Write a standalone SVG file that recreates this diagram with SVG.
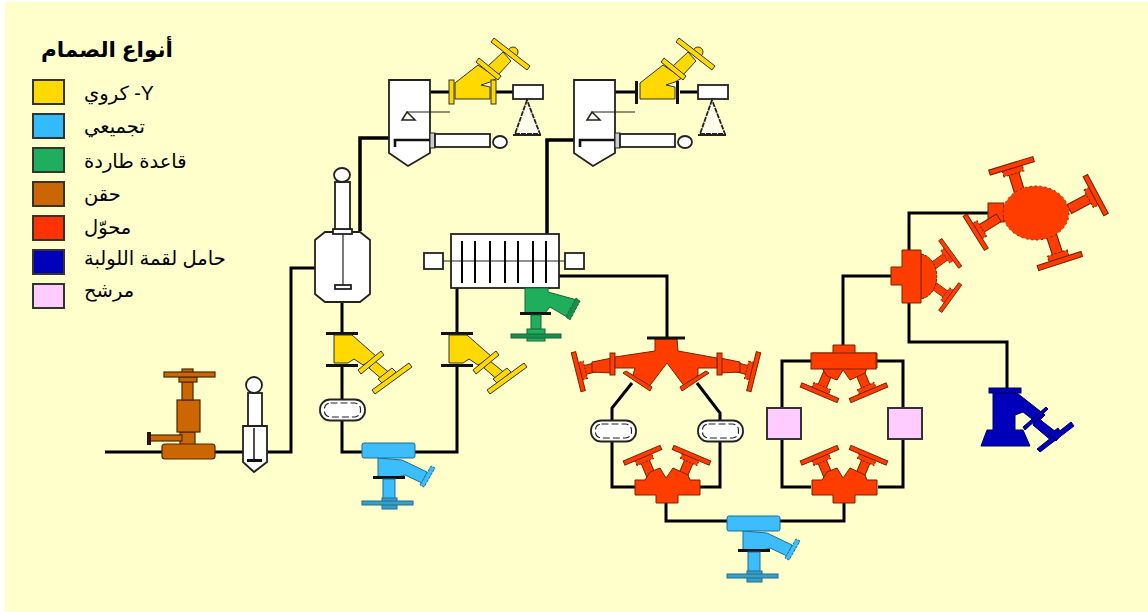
<svg xmlns="http://www.w3.org/2000/svg" xmlns:xlink="http://www.w3.org/1999/xlink" width="1148" height="612" viewBox="0 0 1148 612">
<style>
.bg{fill:#ffffcc}
.pipe{fill:none;stroke:#000;stroke-width:3.5;stroke-linejoin:miter}
.pipe2{fill:none;stroke:#000;stroke-width:3}
.eq{fill:#fff;stroke:#222;stroke-width:1.8}
.thin{fill:none;stroke:#222;stroke-width:1.2}
.bar{fill:none;stroke:#111;stroke-width:2.6}
.sw{stroke:#333;stroke-width:2}
.lg{font-family:"Liberation Sans","DejaVu Sans","Noto Sans",sans-serif;font-size:19.500px;fill:#000;direction:rtl;text-anchor:end}
.ttl{font-family:"Liberation Sans","DejaVu Sans","Noto Sans",sans-serif;font-size:21.500px;font-weight:bold;fill:#000;direction:rtl;text-anchor:end}
.y{fill:#ffd900;stroke:#333;stroke-width:1}
.c{fill:#3dbdfb;stroke:#1b6f96;stroke-width:1}
.c2{fill:#3a9fc2;stroke:#1b6f96;stroke-width:1}
.g{fill:#1fae5c;stroke:#14663a;stroke-width:1}
.g2{fill:#1a8f4c;stroke:#14663a;stroke-width:1}
.b{fill:#cc6600;stroke:#4a2800;stroke-width:1.2}
.r{fill:#ff3d00;stroke:#7a2000;stroke-width:1}
.d{fill:#0000bb;stroke:#000060;stroke-width:1}
.p{fill:#ffccff;stroke:#333;stroke-width:2}
</style>
<defs>
<g id="arm"><rect class="r" x="-8" y="-4.500" width="28" height="9"/><rect class="r" x="12" y="-9" width="7" height="18" stroke-dasharray="2 1.500"/><rect class="r" x="17" y="-20" width="4.500" height="40"/></g>
<g id="oval"><rect class="eq" x="-22.500" y="-10.500" width="45" height="21" rx="10"/><rect x="-18" y="-7" width="36" height="14" rx="6" fill="none" stroke="#222" stroke-width="1.200" stroke-dasharray="7 3"/></g>
<g id="yvalve">
<rect x="326" y="332" width="32" height="3" fill="#111"/><rect x="326" y="364" width="32" height="3" fill="#111"/>
<polygon class="y" points="334,335 352,335 377,357 363,365 354,359 348,363 334,363"/>
<polygon class="y" points="375,361 391,374 384,381 369,368"/>
<polygon class="y" points="358,370 381,351 384,355 361,374"/>
<polygon class="y" points="378,379 392,368 396,372 383,384"/>
<polygon class="y" points="372,390 409,363 412,367 375,394"/>
</g>
<g id="topvalve">
<polygon class="y" points="455,83 478,65 497,78 490,82 481,85 490,87 490,99 455,99"/>
<polygon class="y" points="488,66 503,52 511,61 497,76"/>
<polygon class="y" points="479,58 501,76 498,80 476,62"/>
<circle class="y" cx="513" cy="52" r="5"/>
<polygon class="y" points="494,38 530,66 527,70 491,42"/>
</g>
<g id="press">
<path class="eq" d="M389,80H430V153L408,166L389,153Z"/>
<path class="thin" d="M407,112H450"/>
<path d="M402,120L407,112L415,120Z" fill="#ffffee" stroke="#222" stroke-width="1.500"/>
<path class="bar" d="M395,147V140H430"/>
<rect x="430" y="133" width="5" height="15" fill="#ccc" stroke="#222"/>
<rect class="eq" x="435" y="134" width="55" height="13"/>
<ellipse class="eq" cx="500" cy="142" rx="7" ry="6"/>
<rect class="eq" x="513" y="85" width="30" height="14"/>
<path d="M527,100L515,134H540Z" fill="#ffffee" stroke="#222" stroke-width="1.800" stroke-dasharray="5 1"/>
<path d="M513,135H541" stroke="#222" stroke-width="2"/>
</g>
<g id="bluev">
<polygon class="c" points="378,458 402,460 427,472 422,483 405,475 398,477 378,477"/>
<rect x="373" y="476" width="32" height="3" fill="#111"/>
<rect class="c" x="383" y="479" width="12" height="24"/>
<rect class="c2" x="382" y="498" width="15" height="11"/>
<rect class="c2" x="362" y="501" width="51" height="4"/>
<polygon class="c" points="420,485 431,466 435,468 424,487" stroke-dasharray="3 1"/>
<rect class="c" x="362" y="443" width="53" height="15" rx="2" stroke="#111"/>
</g>
<g id="redlow">
<use xlink:href="#arm" href="#arm" transform="translate(650,473) rotate(-113)"/>
<use xlink:href="#arm" href="#arm" transform="translate(684,473) rotate(-67)"/>
<polygon class="r" points="635,480 645,480 650,472 660,468 666,478 673,468 688,475 690,480 700,480 700,495 678,495 678,503 656,503 656,495 635,495"/>
</g>
</defs>
<rect width="1148" height="612" fill="#fff"/>
<rect class="bg" x="5" y="2" width="1143" height="610"/>

<g id="legend">
<text class="ttl" x="41" y="57">أنواع الصمام</text>
<rect class="sw" x="33" y="80" width="31" height="24" fill="#ffd900"/><text class="lg" x="84" y="100">Y- كروي</text>
<rect class="sw" x="33" y="114" width="31" height="24" fill="#33bbff"/><text class="lg" x="84" y="133">تجميعي</text>
<rect class="sw" x="33" y="148" width="31" height="24" fill="#1fae5c"/><text class="lg" x="84" y="168">قاعدة طاردة</text>
<rect class="sw" x="33" y="182" width="31" height="24" fill="#cc6600"/><text class="lg" x="84" y="201">حقن</text>
<rect class="sw" x="33" y="216" width="31" height="24" fill="#ff3300"/><text class="lg" x="84" y="234">محوّل</text>
<rect class="sw" x="33" y="250" width="31" height="24" fill="#0000bb"/><text class="lg" x="84" y="265">حامل لقمة اللولبة</text>
<rect class="sw" x="33" y="284" width="31" height="24" fill="#ffccff"/><text class="lg" x="84" y="297">مرشح</text>
</g>

<g id="connectors">
<path class="pipe2" d="M105,452H243M267,452H291V268H315"/>
<path class="pipe" d="M360,231V138H389"/>
<path class="pipe2" d="M430,92H450M495,92H513"/>
<path class="pipe" d="M547,234V140H574"/>
<path class="pipe2" d="M615,92H635M680,92H698"/>
<path class="pipe2" d="M342,302V333M342,365V399M342,420V452H362M415,452H457V365M457,333V288"/>
<path class="pipe2" d="M559,276H667V338"/>
<path class="pipe2" d="M632,383L612,408V420M612,441V487H635M697,383L720,413V420M720,441V487H700"/>
<path class="pipe2" d="M666,503V521H727M778,521H844V503"/>
<path class="pipe2" d="M843,345V276H891"/>
<path class="pipe2" d="M811,361H782V408M782,439V487H811M876,361H903V408M903,439V487H878"/>
<path class="pipe2" d="M909,250V213H988M909,303V342H1007V388"/>
</g>

<g id="reactor">
<path class="eq" d="M315,240L325,232H360L370,240V294L360,302H325L315,294Z"/>
<rect class="eq" x="333" y="229" width="19" height="5"/>
<rect class="eq" x="335" y="182" width="15" height="47"/>
<ellipse class="eq" cx="342" cy="175" rx="8" ry="7"/>
<path class="thin" d="M343,234V285"/>
<rect class="eq" x="335" y="285" width="16" height="4"/>
</g>
<g id="settler"><rect class="eq" x="248" y="393" width="14" height="33"/><circle class="eq" cx="254" cy="385" r="8"/><path class="eq" d="M243,426H267V462L254,472L243,462Z"/><path d="M254,428V460" stroke="#222" stroke-width="1.600"/><rect x="247" y="459" width="15" height="3" fill="#111"/></g>
<g id="press-1"><use xlink:href="#press" href="#press"/></g>
<g id="press-2"><use xlink:href="#press" href="#press" transform="translate(185,0)"/></g>
<g id="globe-1"><use xlink:href="#topvalve" href="#topvalve"/><rect class="y" x="449" y="80" width="5" height="24"/><rect class="y" x="491" y="80" width="5" height="24"/></g>
<g id="globe-2"><use xlink:href="#topvalve" href="#topvalve" transform="translate(185,0)"/><rect x="635" y="81" width="3" height="23" fill="#111"/><rect x="676" y="81" width="3" height="23" fill="#111"/></g>
<g id="filter-press">
<rect class="eq" x="451" y="234" width="108" height="54" stroke-width="2.200"/>
<path d="M443,261H565" stroke="#222" stroke-width="1.200"/>
<path class="pipe2" style="stroke-width:2" d="M462,241V283M475,241V283M490,241V283M505,241V283M518,241V283M533,241V283M546,241V283"/>
<rect class="eq" x="424" y="253" width="19" height="16"/>
<rect class="eq" x="565" y="253" width="19" height="16"/>
</g>
<g id="green-valve">
<polygon class="g" points="525,288 548,288 548,292 577,300 567,317 550,307 545,313 525,313"/>
<polygon class="g2" points="576,298 580,301 570,320 566,317" stroke-dasharray="3 1"/>
<rect x="520" y="312" width="31" height="3" fill="#111"/>
<rect class="g" x="531" y="315" width="10" height="15"/>
<rect class="g" x="527" y="329" width="18" height="12"/>
<rect class="g2" x="511" y="334" width="50" height="4"/>
</g>
<g id="gate-1"><rect class="b" x="180" y="432" width="15" height="13"/><rect class="b" x="150" y="435" width="32" height="6"/><rect x="147" y="432" width="4" height="13" fill="#2a1500"/><rect class="b" x="177" y="400" width="23" height="32"/><rect class="b" x="182" y="382" width="11" height="18"/><rect class="b" x="179" y="377" width="18" height="5"/><rect class="b" x="182" y="369" width="11" height="4"/><rect class="b" x="164" y="372" width="51" height="5"/><rect class="b" x="162" y="444" width="53" height="15" rx="3"/></g>
<g id="y-valve-1"><use xlink:href="#yvalve" href="#yvalve"/></g>
<g id="y-valve-2"><use xlink:href="#yvalve" href="#yvalve" transform="translate(115,0)"/></g>
<g id="sight-1"><use xlink:href="#oval" href="#oval" transform="translate(342.500,410)"/></g>
<g id="blue-valve-1"><use xlink:href="#bluev" href="#bluev"/></g>
<g id="blue-valve-2"><use xlink:href="#bluev" href="#bluev" transform="translate(365,73)"/></g>
<g id="red-top">
<use xlink:href="#arm" href="#arm" transform="translate(597,367) rotate(166)"/>
<use xlink:href="#arm" href="#arm" transform="translate(735,367) rotate(14)"/>
<polygon class="r" points="612,358 592,362 592,372 612,373"/><polygon class="r" points="720,358 740,362 740,372 720,373"/>
<rect class="r" x="610" y="353" width="5" height="22"/><rect class="r" x="717" y="353" width="5" height="22"/>
<polygon class="r" points="655,339 677,339 678,351 717,358 717,368 698,368 698,375 685,387 667,363 648,388 633,375 635,368 615,368 615,357 655,351"/>
<polygon class="r" points="623,373 626,371 652,387 650,391"/><polygon class="r" points="709,373 706,371 680,387 682,391"/>
<rect x="647" y="336.500" width="38" height="3" fill="#111"/>
</g>
<g id="sight-2"><use xlink:href="#oval" href="#oval" transform="translate(613.500,431)"/></g>
<g id="sight-3"><use xlink:href="#oval" href="#oval" transform="translate(720.500,431)"/></g>
<g id="red-low-1"><use xlink:href="#redlow" href="#redlow"/></g>
<g id="red-low-2"><use xlink:href="#redlow" href="#redlow" transform="translate(177,0)"/></g>
<g id="red-up"><use xlink:href="#redlow" href="#redlow" transform="translate(177,848) scale(1,-1)"/><rect class="r" x="811" y="353" width="65" height="16"/></g>
<rect id="filter-1" class="p" x="767" y="408" width="34" height="31"/>
<rect id="filter-2" class="p" x="888" y="408" width="34" height="31"/>
<g id="red-side">
<use xlink:href="#arm" href="#arm" transform="translate(937,263) rotate(-36) scale(.85)"/>
<use xlink:href="#arm" href="#arm" transform="translate(937,288) rotate(36) scale(.85)"/>
<path class="r" d="M921,254C942,258 942,295 921,299Z" stroke-dasharray="3 1"/>
<polygon class="r" points="902,250 921,250 921,303 902,303 902,285 891,285 891,267 902,267"/>
</g>
<g id="red-hub">
<rect class="r" x="988" y="203" width="16" height="19"/>
<use xlink:href="#arm" href="#arm" transform="translate(1018,187) rotate(-107) scale(1.150)"/>
<use xlink:href="#arm" href="#arm" transform="translate(1077,205) rotate(-28) scale(1.100)"/>
<use xlink:href="#arm" href="#arm" transform="translate(1053,240) rotate(72) scale(1.150)"/>
<use xlink:href="#arm" href="#arm" transform="translate(992,222) rotate(148)"/>
<ellipse class="r" cx="1036" cy="213" rx="33" ry="27" stroke-width="1.500" stroke-dasharray="2 3"/>
</g>
<g id="lead-valve">
<polygon class="d" points="993,393 1017,393 1045,415 1037,423 1023,412 1015,415 1015,430 1023,430 1030,446 981,446 987,430 993,430"/>
<polygon class="d" points="1036,416 1043,422 1060,435 1053,442 1033,425"/>
<rect class="d" x="989" y="388" width="32" height="5"/>
<polygon class="d" points="1023,427 1046,407 1048,409 1025,430" stroke="#000"/>
<polygon class="d" points="1037,449 1071,422 1074,426 1040,452"/>
<polygon class="d" points="1050,434 1058,428 1062,434 1056,441"/>
</g>
</svg>
